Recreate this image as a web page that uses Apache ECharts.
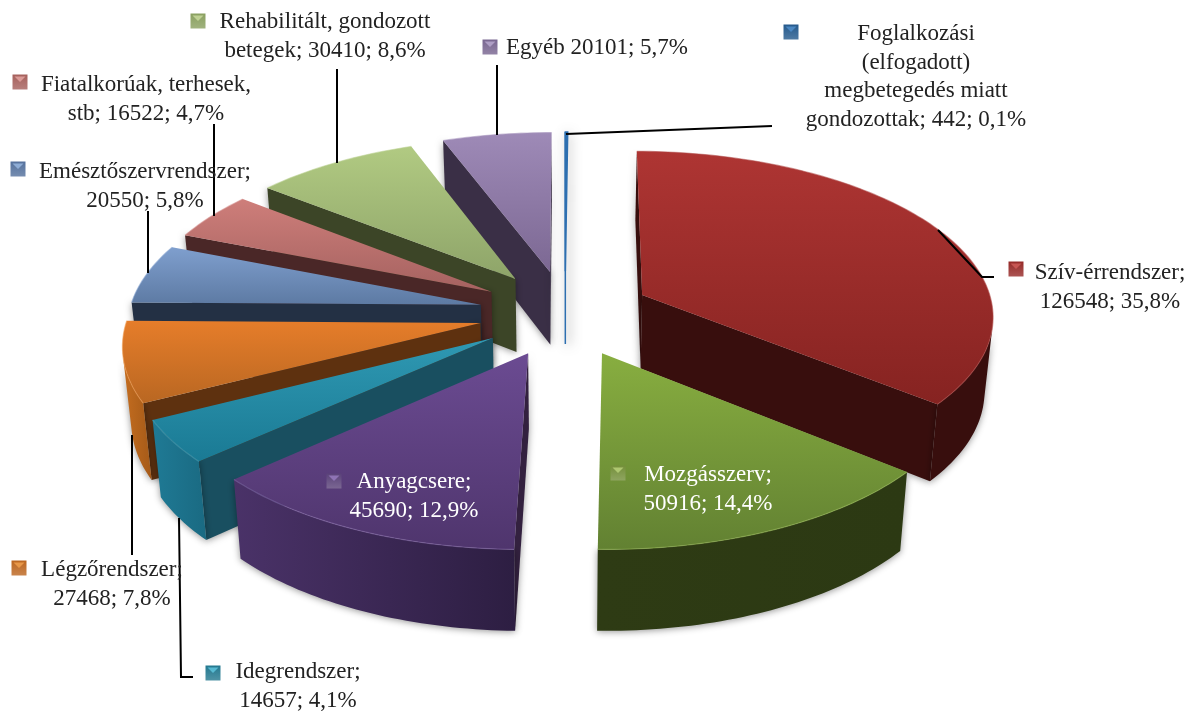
<!DOCTYPE html>
<html><head><meta charset="utf-8">
<style>html,body{margin:0;padding:0;background:#fff}#c{width:1190px;height:711px}</style>
<script src="https://cdn.jsdelivr.net/npm/echarts@6/dist/echarts.min.js"></script>
</head><body><div id="c"></div>
<script>
// ---- data
const names = ['Foglalkozási (elfogadott) megbetegedés miatt gondozottak','Szív-érrendszer','Mozgásszerv','Anyagcsere','Idegrendszer','Légzőrendszer','Emésztőszervrendszer','Fiatalkorúak, terhesek, stb','Rehabilitált, gondozott betegek','Egyéb'];
const values = [442,126548,50916,45690,14657,27468,20550,16522,30410,20101];
const labelLines = [
 ['Foglalkozási','(elfogadott)','megbetegedés miatt','gondozottak; 442; 0,1%'],
 ['Szív-érrendszer;','126548; 35,8%'],
 ['Mozgásszerv;','50916; 14,4%'],
 ['Anyagcsere;','45690; 12,9%'],
 ['Idegrendszer;','14657; 4,1%'],
 ['Légzőrendszer;','27468; 7,8%'],
 ['Emésztőszervrendszer;','20550; 5,8%'],
 ['Fiatalkorúak, terhesek,','stb; 16522; 4,7%'],
 ['Rehabilitált, gondozott','betegek; 30410; 8,6%'],
 ['Egyéb 20101; 5,7%']
];
// ---- styling
const topHi  = ['#2d6fb0','#ae3533','#88ae40','#6b4b92','#2f99b3','#e67d2a','#7f9fce','#ce7e7a','#b1ca82','#9e8ab7'];
const topLo  = ['#2d6fb0','#862321','#628132','#4f356d','#1a7a94','#b96722','#5d7aa3','#a56260','#8ea469','#7c6893'];
const wallCol= ['#2d6fb0','#380e0d','#2c3913','#33213f','#194f60','#5e310f','#233044','#4a2727','#3c4527','#3a2f46'];
const rimHi  = ['#2d6fb0','#380e0d','#2e3b14','#4a3268','#1f7a95','#c46d20','#233044','#4a2727','#3c4527','#3a2f46'];
const rimLo  = ['#2d6fb0','#380e0d','#2c3913','#2d1e42','#1a6a82','#a55a18','#233044','#4a2727','#3c4527','#3a2f46'];
const edgeCol= ['#2d6fb0','#b04a48','#93b650','#8468a8','#4aa6bf','#ee9a50','#8aa8d4','#d69290','#bcd294','#a998c0'];
const keyCol = ['#24598c','#962a28','#748f3a','#5a4279','#23788f','#bc6620','#54719d','#a6605c','#8aa060','#796690'];
const keyHi  = ['#4f8cc8','#cc5a56','#b4cc76','#9478ba','#5cc0d8','#ec9c4c','#94b2dc','#e0a09c','#c4d698','#b4a4ca'];
const textCol = ['#222','#222','#fff','#fff','#222','#222','#222','#222','#222','#222'];
// ---- label layout: text centre x, first line y, key x, key y
const labelCx = [916,1110,708,414,298,112,145,146,325,597];
const labelTop= [34,273,475,482,672,570,172,85,22,48];
const keyX = [791,1016,618,334,213,19,18,20,198,490];
const keyY = [32,269,473,481,673,568,169,82,21,47];
const leaders = [
 [[566,134],[772,126]],
 [[938,230],[982,277],[994,277]],
 [],[],
 [[179,518],[181,677],[193,677]],
 [[132,435],[132,555]],
 [[148,211],[148,273]],
 [[214,124],[214,216]],
 [[337,69],[337,163]],
 [[497,65],[497,135]]
];
// ---- projection
const CX=565, CY=313, RX=352, RY=164, EXPL=0.245, EXPLY=0.262, PERSP=0.114, DEPTH=74, SHRINK=0.02;
function proj(X,Y,z){
  const s=1/(1-PERSP*Y), k=s*(1-SHRINK*z);
  return [CX+RX*X*k, CY+RY*Y*k+DEPTH*z*s];
}
const total=values.reduce((a,b)=>a+b,0);
const starts=[]; let acc=0;
values.forEach(v=>{starts.push(acc/total*Math.PI*2); acc+=v;});
const mids=values.map((v,i)=>starts[i]+v/total*Math.PI);
const order=values.map((v,i)=>i).sort((a,b)=>(-Math.cos(mids[a]))-(-Math.cos(mids[b])));
const rank=[]; order.forEach((idx,r)=>rank[idx]=r);
const cross=(p,q,r,s)=>(q[0]-p[0])*(s[1]-r[1])-(q[1]-p[1])*(s[0]-r[0]);

function renderSlice(params,api){
  const i=api.value(0), a0=starts[i], a1=a0+values[i]/total*Math.PI*2, m=mids[i];
  const ox=EXPL*Math.sin(m), oy=-EXPLY*Math.cos(m);
  const pt=(a,z)=>proj(ox+Math.sin(a),oy-Math.cos(a),z);
  const steps=Math.max(2,Math.ceil((a1-a0)/0.02));
  const arcA=[]; for(let k=0;k<=steps;k++) arcA.push(a0+(a1-a0)*k/steps);
  const apexT=proj(ox,oy,0), apexB=proj(ox,oy,1);
  const arcT=arcA.map(a=>pt(a,0)), arcB=arcA.map(a=>pt(a,1));
  const base=rank[i]*10;
  const thin=i===0;
  const shadow={shadowBlur:thin?12:7,shadowColor:thin?'rgba(0,0,0,0.7)':'rgba(0,0,0,0.42)',shadowOffsetX:thin?3:0,shadowOffsetY:1};
  const wallStyle=Object.assign({fill:wallCol[i]},shadow,thin?{stroke:wallCol[i],lineWidth:1.5}:{});
  const kids=[];
  // only faces turned towards the viewer are drawn
  if(thin||cross(apexT,arcT[0],apexT,apexB)<0)
    kids.push({type:'polygon',z2:base,shape:{points:[apexT,arcT[0],arcB[0],apexB]},style:wallStyle});
  if(!thin&&cross(apexT,arcT[steps],apexT,apexB)>0)
    kids.push({type:'polygon',z2:base+1,shape:{points:[apexT,arcT[steps],arcB[steps],apexB]},style:wallStyle});
  let from=-1,to=-1;
  for(let k=0;k<steps;k++){
    if(cross(arcT[k],arcT[k+1],arcT[k],arcB[k])<0){ if(from<0) from=k; to=k+1; }
  }
  if(!thin&&from>=0){
    const ft=arcT.slice(from,to+1), fb=arcB.slice(from,to+1).reverse();
    kids.push({type:'polygon',z2:base+2,shape:{points:ft.concat(fb)},
      style:Object.assign({fill:{type:'linear',x:0,y:0,x2:1,y2:0,colorStops:[{offset:0,color:rimHi[i]},{offset:1,color:rimLo[i]}]}},shadow)});
  }
  kids.push({type:'polygon',z2:base+3,shape:{points:[apexT].concat(arcT)},
      style:Object.assign({fill:{type:'linear',x:0,y:0,x2:0,y2:1,colorStops:[{offset:0,color:topHi[i]},{offset:1,color:topLo[i]}]}},thin?{stroke:topHi[i],lineWidth:1.5}:{})});
  if(!thin) kids.push({type:'polyline',z2:base+4,shape:{points:arcT},style:{fill:null,stroke:edgeCol[i],lineWidth:1.2,opacity:0.55}});
  return {type:'group',children:kids};
}

const g=[];
leaders.forEach(l=>{ if(l.length) g.push({type:'polyline',z:20,shape:{points:l},style:{fill:null,stroke:'#000',lineWidth:2}}); });
labelLines.forEach((lines,i)=>{
  lines.forEach((t,j)=>{
    g.push({type:'text',z:30,x:labelCx[i],y:labelTop[i]+j*(i===0?28.7:29),
      style:{text:t,align:'center',verticalAlign:'middle',fill:textCol[i],font:'23px "Liberation Serif",serif'}});
  });
  const x=keyX[i],y=keyY[i],h=7.5;
  g.push({type:'rect',z:30,shape:{x:x-h,y:y-h,width:2*h,height:2*h},
    style:{fill:{type:'linear',x:0,y:0,x2:0,y2:1,colorStops:[{offset:0,color:keyCol[i]},{offset:1,color:echarts.color.lift(keyCol[i],0.2)}]}}});
  g.push({type:'polygon',z:30,shape:{points:[[x-h+2,y-h+2],[x+h-2,y-h+2],[x,y]]},style:{fill:keyHi[i],opacity:0.9}});
});

const chart=echarts.init(document.getElementById('c'),null,{renderer:'canvas'});
chart.setOption({
  animation:false,backgroundColor:'#fff',
  tooltip:{show:false},
  series:[{type:'custom',coordinateSystem:'none',renderItem:renderSlice,
    data:order.map(i=>({name:names[i],value:[i,values[i]]})),silent:true,z:10}],
  graphic:g
});
</script></body></html>
